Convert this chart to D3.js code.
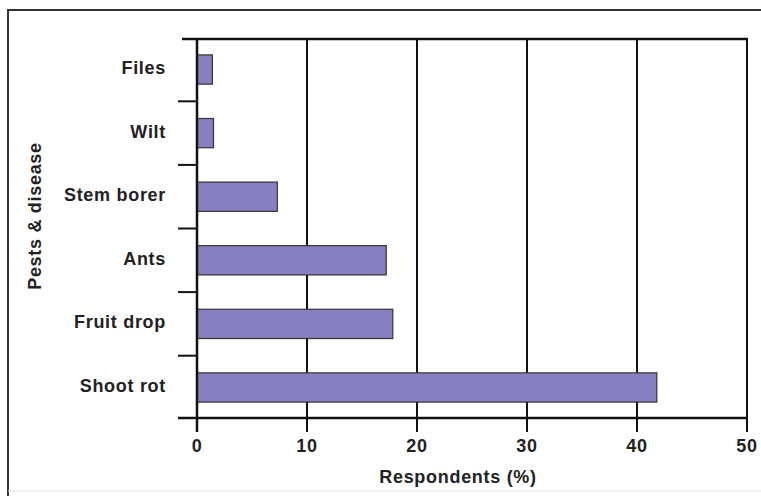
<!DOCTYPE html>
<html>
<head>
<meta charset="utf-8">
<script src="https://cdn.jsdelivr.net/npm/d3@7"></script>
<style>
  body { margin: 0; background: #fff; }
  text { font-family: "Liberation Sans", Arial, sans-serif; font-weight: bold; fill: #222; letter-spacing: 0.7px; }
</style>
</head>
<body>
<svg id="chart" width="761" height="496"></svg>
<script>
// data
var categories = ["Files", "Wilt", "Stem borer", "Ants", "Fruit drop", "Shoot rot"];
var values = [1.4, 1.5, 7.3, 17.2, 17.8, 41.8];
var xTicks = [0, 10, 20, 30, 40, 50];

var svg = d3.select("#chart");

var pLeft = 197, pRight = 747, pTop = 39, pBottom = 418;

var x = d3.scaleLinear().domain([0, 50]).range([pLeft, pRight]);
var y = d3.scaleBand().domain(categories).range([pTop, pBottom]).paddingInner(0.54).paddingOuter(0.25);

// outer frame
svg.append("path")
  .attr("d", "M8,496V10H761")
  .attr("fill", "none").attr("stroke", "#333").attr("stroke-width", 2);
svg.append("line")
  .attr("x1", 8).attr("x2", 761).attr("y1", 491).attr("y2", 491)
  .attr("stroke", "#ddd").attr("stroke-width", 1);

// vertical grid lines, running down as ticks
svg.append("g").selectAll("line")
  .data(xTicks)
  .enter().append("line")
  .attr("x1", function(d) { return x(d); })
  .attr("x2", function(d) { return x(d); })
  .attr("y1", pTop)
  .attr("y2", pBottom + 14)
  .attr("stroke", "#111").attr("stroke-width", 2);

// top and bottom lines
svg.append("line").attr("x1", 182).attr("x2", pRight + 1).attr("y1", pTop).attr("y2", pTop)
  .attr("stroke", "#111").attr("stroke-width", 2.5);
svg.append("line").attr("x1", 178).attr("x2", pRight + 1).attr("y1", pBottom).attr("y2", pBottom)
  .attr("stroke", "#111").attr("stroke-width", 2.5);

// category separators on the left
var seps = categories.slice(1).map(function(c) { return y(c) - y.step() * y.paddingInner() / 2; });
svg.append("g").selectAll("line")
  .data(seps)
  .enter().append("line")
  .attr("x1", 178).attr("x2", pLeft)
  .attr("y1", function(d) { return d; }).attr("y2", function(d) { return d; })
  .attr("stroke", "#111").attr("stroke-width", 2);

// bars
svg.append("g").selectAll("rect")
  .data(values)
  .enter().append("rect")
  .attr("x", x(0))
  .attr("y", function(d, i) { return y(categories[i]); })
  .attr("width", function(d) { return x(d) - x(0); })
  .attr("height", y.bandwidth())
  .attr("fill", "#8680c0")
  .attr("stroke", "#333").attr("stroke-width", 1.2);

// y axis line
svg.append("line").attr("x1", pLeft).attr("x2", pLeft).attr("y1", pTop).attr("y2", pBottom + 14)
  .attr("stroke", "#111").attr("stroke-width", 2.5);

// category labels
svg.append("g").selectAll("text")
  .data(categories)
  .enter().append("text")
  .attr("x", 166)
  .attr("y", function(d) { return y(d) + y.bandwidth() / 2; })
  .attr("dy", "0.25em")
  .attr("text-anchor", "end")
  .attr("font-size", 18)
  .text(function(d) { return d; });

// x tick labels
svg.append("g").selectAll("text")
  .data(xTicks)
  .enter().append("text")
  .attr("x", function(d) { return x(d); })
  .attr("y", 446)
  .attr("dy", "0.35em")
  .attr("text-anchor", "middle")
  .attr("font-size", 18)
  .text(function(d) { return d; });

// axis titles
svg.append("text")
  .attr("x", 458).attr("y", 477).attr("dy", "0.35em")
  .attr("text-anchor", "middle").attr("font-size", 18)
  .text("Respondents (%)");

svg.append("text")
  .attr("transform", "translate(35,216) rotate(-90)")
  .attr("dy", "0.35em")
  .attr("text-anchor", "middle").attr("font-size", 18)
  .text("Pests & disease");
</script>
</body>
</html>
